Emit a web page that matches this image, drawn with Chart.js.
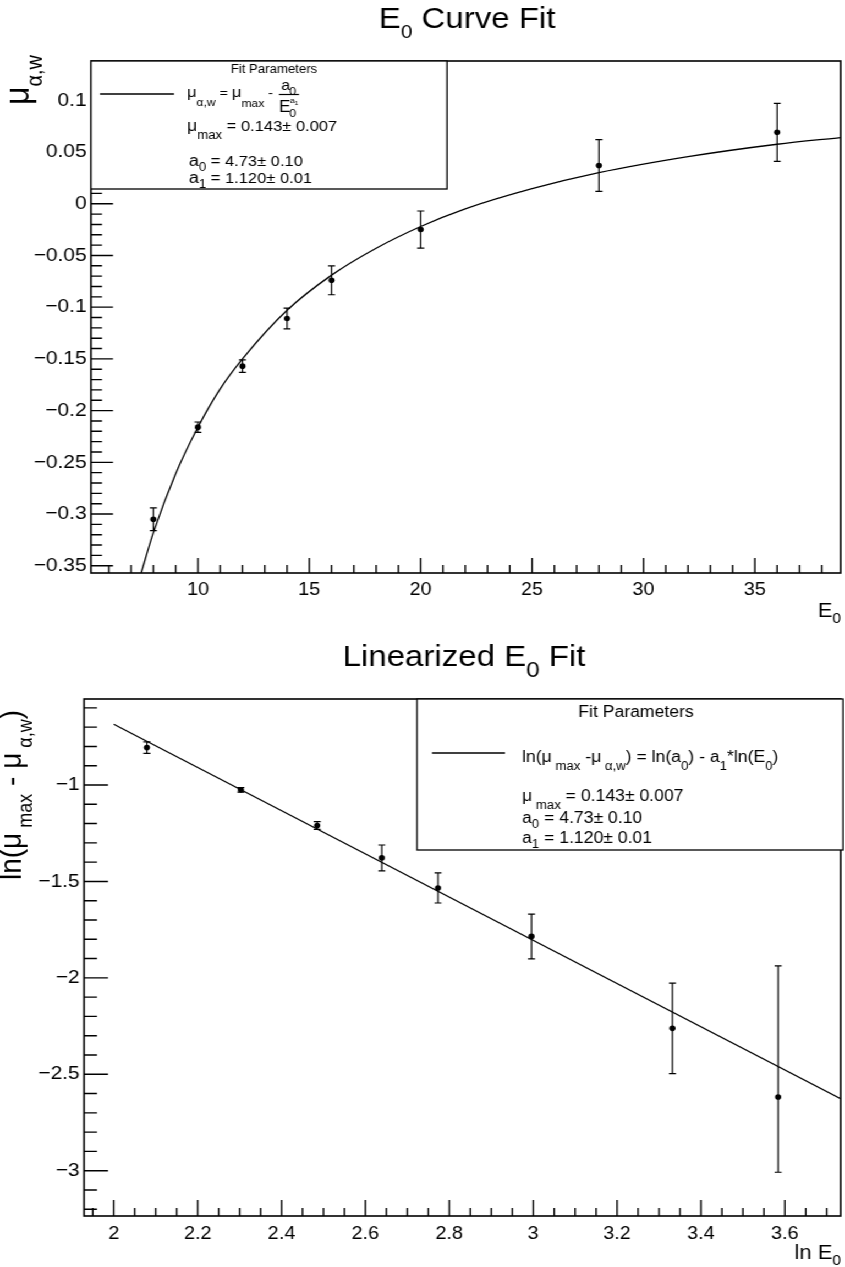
<!DOCTYPE html>
<html>
<head>
<meta charset="utf-8">
<script src="https://cdn.jsdelivr.net/npm/chart.js@4.4.1/dist/chart.umd.min.js"></script>
<style>
  html, body { margin: 0; padding: 0; background: #fff; overflow: hidden; }
  /* the plots are drawn 768 wide and stretched to 845, like the source picture */
  #page { position: absolute; left: 0; top: 0; width: 768px; height: 1267px; transform: scaleX(1.1003); transform-origin: 0 0; }
  canvas { position: absolute; left: 0; }
</style>
</head>
<body>
<div id="page">
  <canvas id="curveChart" width="768" height="630" style="top:0"></canvas>
  <canvas id="linChart" width="768" height="637" style="top:630px"></canvas>
</div>
<script>
// measured points: E0 and mu_alpha,w
const energies = [8, 10, 12, 14, 16, 20, 28, 36];
const muValues = [-0.305, -0.216, -0.157, -0.111, -0.074, -0.025, 0.037, 0.069];
const muErrors = [0.011, 0.005, 0.006, 0.010, 0.014, 0.018, 0.025, 0.028];

// fit curve
const curveE = [7.45, 8, 9, 10, 11, 12, 14, 16, 18, 20, 22, 25, 28, 32, 36, 38.85];
const curveMu = [-0.357, -0.318, -0.261, -0.216, -0.179, -0.150, -0.103, -0.069, -0.043, -0.022, -0.005, 0.0145, 0.030, 0.0455, 0.0575, 0.064];

// linearized points: ln E0 and ln(mu_max - mu)
const lnE = [2.079, 2.303, 2.485, 2.639, 2.773, 2.996, 3.332, 3.584];
const lnDiff = [-0.806, -1.025, -1.210, -1.378, -1.534, -1.785, -2.262, -2.618];
const lnErrUp = [0.030, 0.012, 0.020, 0.067, 0.078, 0.115, 0.235, 0.680];
const lnErrDown = [0.030, 0.012, 0.020, 0.067, 0.078, 0.117, 0.235, 0.390];

// fitted straight line end points
const lineX = [2.0, 3.733];
const lineY = [-0.685, -2.627];

// tick labels
const curveXTicks = [10, 15, 20, 25, 30, 35];
const curveYTicks = [-0.35, -0.3, -0.25, -0.2, -0.15, -0.1, -0.05, 0, 0.05, 0.1];
const linXTicks = [2, 2.2, 2.4, 2.6, 2.8, 3, 3.2, 3.4, 3.6];
const linYTicks = [-3, -2.5, -2, -1.5, -1];

const FONT = '"Liberation Sans", Arial, Helvetica, sans-serif';
const SX = 845 / 768;
const ix = v => v / SX;   // picture x -> canvas x

function fmt(v) {
    return (Math.round(v * 1000) / 1000).toString().replace('-', '\u2212');
}

// draws text pieces in a row: [text, size, dy]
function rich(ctx, parts, x, y, align) {
    let w = 0;
    parts.forEach(p => { ctx.font = p[1] + 'px ' + FONT; w += ctx.measureText(p[0]).width; });
    let cx = align === 'center' ? x - w / 2 : align === 'right' ? x - w : x;
    ctx.textAlign = 'left';
    ctx.textBaseline = 'alphabetic';
    parts.forEach(p => {
        ctx.font = p[1] + 'px ' + FONT;
        ctx.fillText(p[0], cx, y + (p[2] || 0));
        cx += ctx.measureText(p[0]).width;
    });
    return w;
}

function put(ctx, text, size, x, y) {
    ctx.font = size + 'px ' + FONT;
    ctx.textAlign = 'left';
    ctx.textBaseline = 'alphabetic';
    ctx.fillText(text, x, y);
}

function rootPlugin(cfg) {
    return {
        id: 'root_' + cfg.name,
        beforeDatasetsDraw(chart) {
            const { ctx, scales: { x, y }, chartArea: a } = chart;
            ctx.save();
            ctx.beginPath();
            ctx.rect(a.left, a.top, a.width, a.height);
            ctx.clip();
            ctx.strokeStyle = '#000';
            ctx.lineWidth = 1.2;
            cfg.px.forEach((v, i) => {
                const px = x.getPixelForValue(v);
                const y1 = y.getPixelForValue(cfg.py[i] + cfg.up[i]);
                const y2 = y.getPixelForValue(cfg.py[i] - cfg.down[i]);
                ctx.beginPath();
                ctx.moveTo(px, y1); ctx.lineTo(px, y2);
                ctx.moveTo(px - 3.2, y1); ctx.lineTo(px + 3.2, y1);
                ctx.moveTo(px - 3.2, y2); ctx.lineTo(px + 3.2, y2);
                ctx.stroke();
            });
            ctx.restore();
        },
        afterDraw(chart) {
            const { ctx, scales: { x, y }, chartArea: a } = chart;
            ctx.save();
            ctx.strokeStyle = '#000';
            ctx.fillStyle = '#000';
            ctx.lineWidth = 1.4;
            ctx.beginPath();
            // x ticks, pointing up into the frame
            for (let k = Math.ceil(x.min / cfg.xMinor - 1e-9); k * cfg.xMinor <= x.max + 1e-9; k++) {
                const v = k * cfg.xMinor;
                const major = Math.abs(v / cfg.xMajor - Math.round(v / cfg.xMajor)) < 1e-6;
                const px = x.getPixelForValue(v);
                ctx.moveTo(px, a.bottom);
                ctx.lineTo(px, a.bottom - (major ? cfg.xTick[0] : cfg.xTick[1]));
            }
            // y ticks, pointing right into the frame
            for (let k = Math.ceil(y.min / cfg.yMinor - 1e-9); k * cfg.yMinor <= y.max + 1e-9; k++) {
                const v = k * cfg.yMinor;
                const major = Math.abs(v / cfg.yMajor - Math.round(v / cfg.yMajor)) < 1e-6;
                const py = y.getPixelForValue(v);
                ctx.moveTo(a.left, py);
                ctx.lineTo(a.left + (major ? cfg.yTick[0] : cfg.yTick[1]), py);
            }
            ctx.stroke();
            ctx.lineWidth = 1.6;
            ctx.strokeRect(a.left, a.top, a.width, a.height);
            cfg.decorate(ctx, a);
            ctx.restore();
        }
    };
}

function axisOpts(min, max, ticks, size, pad, fit) {
    return {
        type: 'linear', min: min, max: max,
        grid: { display: false, drawTicks: false },
        border: { display: false },
        ticks: {
            color: '#000', font: { family: FONT, size: size }, padding: pad,
            maxRotation: 0, autoSkip: false, callback: v => fmt(v)
        },
        afterBuildTicks: s => { s.ticks = ticks.map(v => ({ value: v })); },
        afterFit: fit
    };
}

// ---------- top: E0 curve fit ----------
new Chart(document.getElementById('curveChart'), {
    type: 'scatter',
    data: {
        datasets: [{
            data: energies.map((e, i) => ({ x: e, y: muValues[i] })),
            pointRadius: 2.8, pointBorderWidth: 0,
            backgroundColor: '#000', borderColor: '#000'
        }, {
            data: curveE.map((e, i) => ({ x: e, y: curveMu[i] })),
            showLine: true, pointRadius: 0, borderColor: '#000', borderWidth: 1.3,
            cubicInterpolationMode: 'monotone', fill: false
        }]
    },
    options: {
        responsive: false, animation: false,
        layout: { padding: { left: 0, top: 61, right: 768 - ix(843), bottom: 0 } },
        plugins: { legend: { display: false }, tooltip: { enabled: false } },
        scales: {
            x: axisOpts(5.2, 38.85, curveXTicks, 18, 6, s => { s.height = 630 - 573; }),
            y: axisOpts(-0.357, 0.138, curveYTicks, 19, 4, s => { s.width = ix(91); })
        }
    },
    plugins: [rootPlugin({
        name: 'curve',
        px: energies, py: muValues, up: muErrors, down: muErrors,
        xMinor: 1, xMajor: 5, yMinor: 0.01, yMajor: 0.05,
        xTick: [15, 8], yTick: [ix(22), ix(11)],
        decorate(ctx) {
            rich(ctx, [['E', 30], ['0', 19, 10], [' Curve Fit', 30]], ix(467), 28, 'center');
            rich(ctx, [['E', 20], ['0', 14, 6]], ix(841), 617, 'right');
            ctx.save();
            ctx.translate(ix(29), 105);
            ctx.rotate(-Math.PI / 2);
            rich(ctx, [['\u03bc', 32], ['\u03b1,w', 20, 12]], 0, 0, 'left');
            ctx.restore();

            // legend box
            const L = ix(91), T = 61, W = ix(447) - ix(91), H = 128;
            ctx.fillStyle = '#fff';
            ctx.fillRect(L, T, W, H);
            ctx.lineWidth = 1.3;
            ctx.strokeRect(L, T, W, H);
            ctx.fillStyle = '#000';
            rich(ctx, [['Fit Parameters', 12]], ix(274), 73, 'center');
            ctx.beginPath();
            ctx.moveTo(ix(100), 94); ctx.lineTo(ix(174), 94);
            ctx.stroke();
            rich(ctx, [['\u03bc', 15], ['\u03b1,w', 11, 9], [' = ', 13], ['\u03bc', 15], ['max', 11, 10], [' - ', 13]], ix(187), 97, 'left');
            put(ctx, 'a', 15, ix(281), 90);
            put(ctx, '0', 11, ix(289.5), 95);
            ctx.beginPath();
            ctx.moveTo(ix(279), 94.5); ctx.lineTo(ix(299), 94.5);
            ctx.lineWidth = 1.2;
            ctx.stroke();
            put(ctx, 'E', 16, ix(279), 112);
            put(ctx, '0', 11, ix(289.5), 117);
            put(ctx, 'a', 8, ix(290), 103);
            put(ctx, '1', 6, ix(294.5), 105);
            rich(ctx, [['\u03bc', 16], ['max', 12, 8], [' = 0.143\u00b1 0.007', 15]], ix(187), 131, 'left');
            rich(ctx, [['a', 16], ['0', 12, 5], [' = 4.73\u00b1 0.10', 15]], ix(189), 166, 'left');
            rich(ctx, [['a', 16], ['1', 12, 5], [' = 1.120\u00b1 0.01', 15]], ix(189), 183, 'left');
        }
    })]
});

// ---------- bottom: linearized fit ----------
new Chart(document.getElementById('linChart'), {
    type: 'scatter',
    data: {
        datasets: [{
            data: lnE.map((e, i) => ({ x: e, y: lnDiff[i] })),
            pointRadius: 2.8, pointBorderWidth: 0,
            backgroundColor: '#000', borderColor: '#000'
        }, {
            data: lineX.map((e, i) => ({ x: e, y: lineY[i] })),
            showLine: true, pointRadius: 0, borderColor: '#000', borderWidth: 1.3, fill: false
        }]
    },
    options: {
        responsive: false, animation: false,
        layout: { padding: { left: 0, top: 69, right: 768 - ix(842), bottom: 0 } },
        plugins: { legend: { display: false }, tooltip: { enabled: false } },
        scales: {
            x: axisOpts(1.929, 3.733, linXTicks, 18, 7, s => { s.height = 637 - 586; }),
            y: axisOpts(-3.235, -0.554, linYTicks, 19, 4, s => { s.width = ix(84); })
        }
    },
    plugins: [rootPlugin({
        name: 'lin',
        px: lnE, py: lnDiff, up: lnErrUp, down: lnErrDown,
        xMinor: 0.05, xMajor: 0.2, yMinor: 0.1, yMajor: 0.5,
        xTick: [16, 8], yTick: [ix(24), ix(13)],
        decorate(ctx) {
            rich(ctx, [['Linearized E', 30], ['0', 22, 11], [' Fit', 30]], ix(464), 36, 'center');
            rich(ctx, [['ln E', 20], ['0', 14, 6]], ix(841), 629, 'right');
            ctx.save();
            ctx.translate(ix(21), 250);
            ctx.rotate(-Math.PI / 2);
            rich(ctx, [['ln(\u03bc', 28], [' max', 18, 10], [' - \u03bc', 28], [' \u03b1,w', 18, 10], [')', 28]], 0, 0, 'left');
            ctx.restore();

            // legend box
            const L = ix(417), T = 69, W = ix(843) - ix(417), H = 151;
            ctx.fillStyle = '#fff';
            ctx.fillRect(L, T, W, H);
            ctx.lineWidth = 1.3;
            ctx.strokeRect(L, T, W, H);
            ctx.fillStyle = '#000';
            rich(ctx, [['Fit Parameters', 16]], ix(636), 87, 'center');
            ctx.beginPath();
            ctx.moveTo(ix(432), 123); ctx.lineTo(ix(505), 123);
            ctx.stroke();
            rich(ctx, [['ln(\u03bc', 16], [' max', 12, 8], [' -\u03bc', 16], [' \u03b1,w', 12, 8], [') = ln(a', 16], ['0', 12, 8],
                [') - a', 16], ['1', 12, 8], ['*ln(E', 16], ['0', 12, 8], [')', 16]], ix(522), 132, 'left');
            rich(ctx, [['\u03bc', 16], [' max', 12, 8], [' = 0.143\u00b1 0.007', 16]], ix(522), 171, 'left');
            rich(ctx, [['a', 16], ['0', 12, 5], [' = 4.73\u00b1 0.10', 16]], ix(522), 193, 'left');
            rich(ctx, [['a', 16], ['1', 12, 5], [' = 1.120\u00b1 0.01', 16]], ix(522), 213, 'left');
        }
    })]
});
</script>
</body>
</html>
